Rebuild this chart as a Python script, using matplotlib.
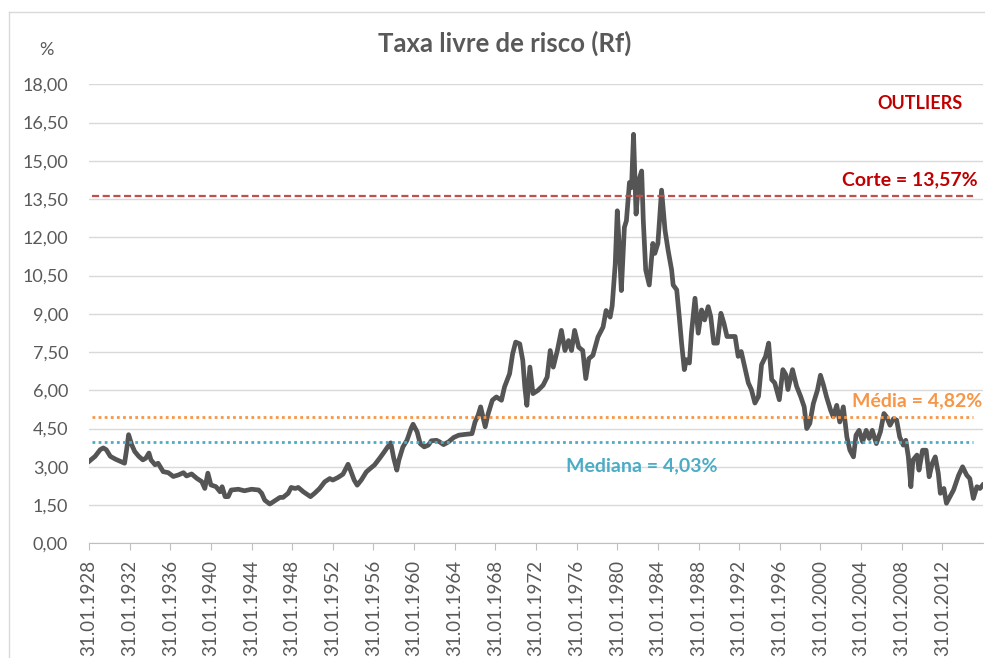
import numpy as np
import matplotlib
matplotlib.use("Agg")
import matplotlib.pyplot as plt
from matplotlib.lines import Line2D

plt.rcParams["font.family"] = ["Lato", "DejaVu Sans"]

# ---------------------------------------------------------------------------
# Data (10y rate, % a.a.)
# ---------------------------------------------------------------------------
YEARS = [
    1928.0, 1928.6, 1929.1, 1929.4, 1929.7, 1930.1, 1930.6, 1931.1, 1931.5, 1931.7,
    1931.9, 1932.2, 1932.5, 1932.9, 1933.3, 1933.6, 1933.9, 1934.1, 1934.5, 1934.8,
    1935.3, 1935.8, 1936.3, 1936.8, 1937.3, 1937.6, 1938.1, 1938.6, 1939.1, 1939.4,
    1939.7, 1940.0, 1940.5, 1940.9, 1941.1, 1941.4, 1941.7, 1942.0, 1942.7, 1943.3,
    1944.0, 1944.7, 1945.0, 1945.3, 1945.8, 1946.3, 1946.8, 1947.1, 1947.6, 1947.9,
    1948.3, 1948.6, 1949.1, 1949.8, 1950.2, 1950.7, 1951.2, 1951.7, 1952.0, 1952.5,
    1953.0, 1953.5, 1953.8, 1954.1, 1954.4, 1954.8, 1955.3, 1955.7, 1956.1, 1956.6,
    1957.0, 1957.4, 1957.7, 1958.0, 1958.3, 1958.5, 1958.9, 1959.3, 1959.7, 1959.9,
    1960.3, 1960.6, 1961.0, 1961.4, 1961.7, 1962.2, 1962.5, 1962.9, 1963.4, 1963.9,
    1964.4, 1965.0, 1965.7, 1966.0, 1966.3, 1966.55, 1967.0, 1967.3, 1967.7, 1968.1,
    1968.6, 1968.9, 1969.4, 1969.7, 1970.0, 1970.4, 1970.7, 1970.9, 1971.1, 1971.4,
    1971.7, 1972.2, 1972.7, 1973.1, 1973.4, 1973.7, 1974.1, 1974.5, 1974.85, 1975.2,
    1975.5, 1975.8, 1976.2, 1976.6, 1976.9, 1977.2, 1977.6, 1978.1, 1978.6, 1978.9,
    1979.3, 1979.5, 1979.8, 1980.0, 1980.2, 1980.4, 1980.7, 1980.9, 1981.2, 1981.4,
    1981.6, 1981.85, 1982.1, 1982.4, 1982.56, 1982.8, 1983.15, 1983.5, 1983.7, 1984.0,
    1984.36, 1984.7, 1985.0, 1985.35, 1985.5, 1985.85, 1986.1, 1986.33, 1986.6, 1986.8,
    1987.1, 1987.3, 1987.65, 1987.97, 1988.3, 1988.6, 1988.95, 1989.2, 1989.5, 1989.85,
    1990.2, 1990.5, 1990.8, 1991.25, 1991.6, 1991.9, 1992.2, 1992.6, 1992.9, 1993.2,
    1993.55, 1993.9, 1994.2, 1994.6, 1994.9, 1995.2, 1995.5, 1995.95, 1996.3, 1996.6,
    1996.8, 1997.25, 1997.65, 1998.05, 1998.4, 1998.65, 1998.95, 1999.3, 1999.7, 2000.0,
    2000.3, 2000.6, 2001.0, 2001.26, 2001.6, 2001.9, 2002.25, 2002.6, 2002.9, 2003.25,
    2003.5, 2003.8, 2004.15, 2004.5, 2004.8, 2005.1, 2005.5, 2005.9, 2006.25, 2006.5,
    2006.85, 2007.2, 2007.5, 2007.8, 2008.15, 2008.4, 2008.65, 2008.9, 2009.1, 2009.5,
    2009.7, 2010.05, 2010.4, 2010.7, 2011.0, 2011.3, 2011.6, 2011.8, 2012.15, 2012.4,
    2012.75, 2013.1, 2013.6, 2013.99, 2014.4, 2014.7, 2015.05, 2015.4, 2015.7, 2015.96,
]
RATES = [
    3.21, 3.41, 3.67, 3.74, 3.67, 3.41, 3.30, 3.21, 3.14, 3.67,
    4.26, 3.87, 3.60, 3.41, 3.27, 3.34, 3.54, 3.27, 3.08, 3.14,
    2.81, 2.77, 2.62, 2.68, 2.77, 2.64, 2.72, 2.55, 2.42, 2.15,
    2.75, 2.29, 2.22, 2.02, 2.22, 1.83, 1.83, 2.09, 2.12, 2.06,
    2.12, 2.09, 1.96, 1.69, 1.54, 1.67, 1.80, 1.80, 1.96, 2.19,
    2.15, 2.19, 2.02, 1.83, 1.96, 2.15, 2.41, 2.54, 2.48, 2.58,
    2.71, 3.10, 2.80, 2.48, 2.28, 2.48, 2.80, 2.94, 3.07, 3.33,
    3.55, 3.78, 3.94, 3.33, 2.87, 3.26, 3.78, 4.04, 4.50, 4.67,
    4.37, 3.91, 3.78, 3.85, 4.02, 4.04, 3.98, 3.87, 3.98, 4.15,
    4.24, 4.27, 4.30, 4.76, 5.02, 5.35, 4.57, 5.09, 5.61, 5.74,
    5.61, 6.13, 6.65, 7.43, 7.89, 7.82, 7.17, 6.13, 5.41, 6.91,
    5.87, 6.00, 6.20, 6.52, 7.56, 6.91, 7.56, 8.35, 7.56, 7.95,
    7.56, 8.35, 7.69, 7.56, 6.46, 7.24, 7.37, 8.09, 8.48, 9.13,
    8.87, 9.32, 10.95, 13.04, 11.60, 9.91, 12.39, 12.65, 14.15, 13.95,
    16.04, 12.91, 14.21, 14.60, 12.67, 10.72, 10.13, 11.76, 11.37, 11.76,
    13.85, 12.28, 11.50, 10.72, 10.13, 9.94, 8.89, 7.85, 6.81, 7.20,
    7.07, 8.24, 9.61, 8.24, 9.15, 8.76, 9.28, 8.89, 7.85, 7.85,
    9.02, 8.63, 8.11, 8.11, 8.11, 7.33, 7.52, 6.81, 6.29, 6.03,
    5.50, 5.76, 7.00, 7.33, 7.85, 6.42, 6.29, 5.63, 6.81, 6.61,
    6.03, 6.81, 6.16, 5.76, 5.35, 4.50, 4.70, 5.48, 6.00, 6.59,
    6.20, 5.74, 5.22, 4.96, 5.41, 4.76, 5.35, 4.17, 3.65, 3.39,
    4.24, 4.43, 3.98, 4.43, 4.11, 4.43, 3.91, 4.37, 5.09, 4.96,
    4.63, 4.89, 4.83, 4.17, 3.85, 4.04, 3.39, 2.22, 3.26, 3.46,
    2.87, 3.65, 3.65, 2.61, 3.13, 3.39, 2.74, 1.96, 2.15, 1.57,
    1.83, 2.09, 2.67, 3.00, 2.67, 2.54, 1.76, 2.22, 2.15, 2.28,
]

# reference levels (as drawn) and their labels
CORTE_LEVEL   = 13.63
MEDIA_LEVEL   = 4.95
MEDIANA_LEVEL = 3.96
CORTE_TEXT    = "Corte = 13,57%"
MEDIA_TEXT    = "Média = 4,82%"
MEDIANA_TEXT  = "Mediana = 4,03%"
LEVEL_SPAN    = (1928.3, 2015.0)

TICK_YEARS  = list(range(1928, 2013, 4))
TICK_LABELS = [f"31.01.{y}" for y in TICK_YEARS]
Y_TICKS     = np.arange(0, 18.01, 1.5)

GREY   = "#595959"
RED    = "#C00000"
ORANGE = "#F79646"
CYAN   = "#4BACC6"

# ---------------------------------------------------------------------------
# Plot
# ---------------------------------------------------------------------------
fig = plt.figure(figsize=(9.85, 6.58), dpi=100)
W, H = 985, 658
ax = fig.add_axes([89 / W, 1 - 543.3 / H, (983 - 89) / W, (543.3 - 84.3) / H])

# chart area border (left / top visible in the crop)
fig.add_artist(Line2D([9 / W, 9 / W], [0, 1 - 12 / H], color="#D9D9D9", lw=1))
fig.add_artist(Line2D([9 / W, 1], [1 - 12 / H, 1 - 12 / H], color="#D9D9D9", lw=1))

ax.plot(YEARS, RATES, color="#555555", lw=3.4, solid_joinstyle="round", zorder=3)

ax.hlines(CORTE_LEVEL, *LEVEL_SPAN, color="#C0504D", lw=1.6,
          linestyles=(0, (3.2, 1.6)), zorder=4)
ax.hlines(MEDIA_LEVEL, *LEVEL_SPAN, color=ORANGE, lw=2.0,
          linestyles=(0, (1, 1.2)), zorder=4)
ax.hlines(MEDIANA_LEVEL, *LEVEL_SPAN, color=CYAN, lw=2.0,
          linestyles=(0, (1, 1.2)), zorder=4)

ax.set_xlim(1928, 2016)
ax.set_ylim(0, 18)

ax.set_yticks(Y_TICKS)
ax.set_yticklabels([f"{v:.2f}".replace(".", ",") for v in Y_TICKS])
ax.set_xticks(TICK_YEARS)
ax.set_xticklabels(TICK_LABELS, rotation=90)

ax.grid(axis="y", color="#D9D9D9", lw=1, zorder=0)
ax.set_axisbelow(True)
for s in ["top", "left", "right"]:
    ax.spines[s].set_visible(False)
ax.spines["bottom"].set_color("#BFBFBF")
ax.tick_params(axis="y", length=0, pad=15, labelsize=13, labelcolor=GREY)
ax.tick_params(axis="x", length=5, color="#BFBFBF", pad=7, labelsize=13.5,
               labelcolor=GREY)

# annotations
ax.text(2014.0, 17.23, "OUTLIERS", color=RED, fontsize=13, fontweight="bold",
        ha="right", va="center")
ax.text(2015.5, 14.25, CORTE_TEXT, color=RED, fontsize=14, fontweight="bold",
        ha="right", va="center")
ax.text(2015.9, 5.58, MEDIA_TEXT, color=ORANGE, fontsize=14, fontweight="bold",
        ha="right", va="center")
ax.text(1974.95, 3.03, MEDIANA_TEXT, color=CYAN, fontsize=14, fontweight="bold",
        ha="left", va="center")

fig.text(505 / W, 1 - 43 / H, "Taxa livre de risco (Rf)", color=GREY,
         fontsize=18.5, fontweight="bold", ha="center", va="center")
fig.text(46 / W, 1 - 50 / H, "%", color=GREY, fontsize=13, ha="center",
         va="center")

fig.savefig("out.png", dpi=100)
